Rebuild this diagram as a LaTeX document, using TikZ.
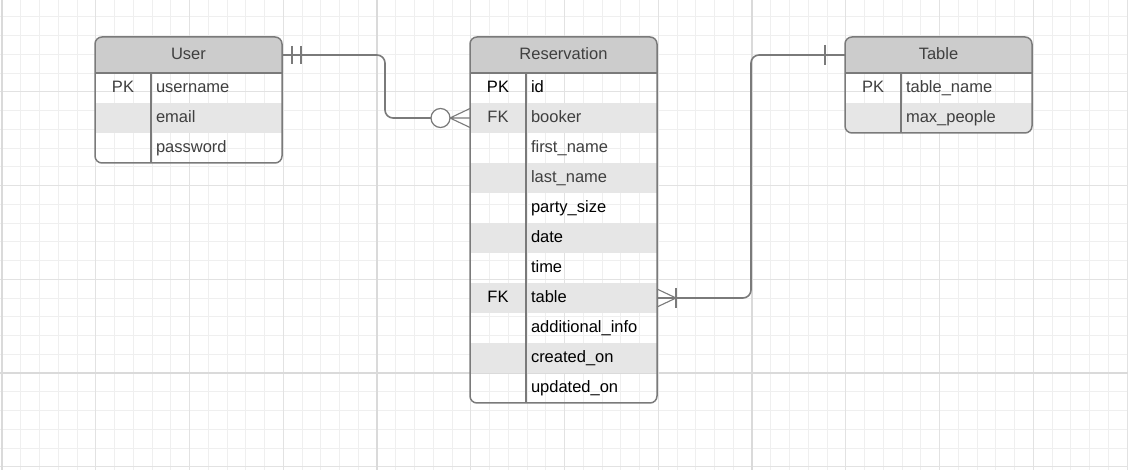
\documentclass[tikz,border=0pt]{standalone}
\usepackage{fontspec}
\setmainfont{Liberation Sans}
\usetikzlibrary{positioning}
\definecolor{hdrgray}{HTML}{CCCCCC}
\definecolor{rowgray}{HTML}{E6E6E6}
\definecolor{linegray}{HTML}{7A7A7A}
\definecolor{txtgray}{HTML}{3F3F3F}
\definecolor{minorgrid}{HTML}{EFEFEF}
\definecolor{midgrid}{HTML}{E2E2E2}
\definecolor{majorgrid}{HTML}{DADADA}

\begin{document}
\begin{tikzpicture}[
    x=1pt, y=-1pt,
    every node/.style={font=\fontsize{16.5}{19}\selectfont, outer sep=0pt, inner sep=0pt},
    header/.style={%
      fill=hdrgray,
      minimum width=187pt,
      minimum height=36pt,
      text height=13pt, text depth=3pt,
      text=txtgray,
    },
    key/.style={%
      minimum width=56pt,
      minimum height=30pt,
      text height=13pt, text depth=3pt,
    },
    field/.style={%
      minimum height=30pt,
      text width=121pt,
      inner xsep=5pt,
      align=left,
      text height=13pt, text depth=3pt,
    },
    shade/.style={fill=rowgray},
    dim/.style={text=txtgray},
    box/.style={draw=linegray, line width=1.5pt, rounded corners=7pt},
    link/.style={draw=linegray, line width=1.6pt},
    crowline/.style={draw=linegray, line width=1.1pt},
  ]

    \useasboundingbox (0,0) rectangle (1128,470);
    \fill[white] (0,0) rectangle (1128,470);

    % grid
    \foreach \i in {0,...,60}
      \draw[minorgrid, line width=0.8pt] ({2+18.75*\i},0) -- ++(0,470);
    \foreach \j in {1,...,25}
      \draw[minorgrid, line width=0.8pt] (0,{-2+18.75*\j}) -- ++(1128,0);
    \foreach \i in {0,...,12}
      \draw[midgrid, line width=0.8pt] ({2+93.75*\i},0) -- ++(0,470);
    \foreach \j in {1,...,5}
      \draw[midgrid, line width=0.8pt] (0,{-2+93.75*\j}) -- ++(1128,0);
    \foreach \i in {2,377,752}
      \draw[majorgrid, line width=1.4pt] (\i,0) -- ++(0,470);
    \draw[majorgrid, line width=1.4pt] (0,373) -- ++(1128,0);

    % User
    \begin{scope}
      \clip[rounded corners=7pt] (95,37) rectangle (282,163);
      \node [header, anchor=north west] (user) at (95,37) {User};
      \node [key, dim, anchor=north west] (user-k1) at (user.south west) {PK};
      \node [field, dim, right=0pt of user-k1] (user-f1) {username};
      \node [key, shade, below=0pt of user-k1] (user-k2) {};
      \node [field, shade, dim, right=0pt of user-k2] (user-f2) {email};
      \node [key, below=0pt of user-k2] (user-k3) {};
      \node [field, dim, right=0pt of user-k3] (user-f3) {password};
    \end{scope}
    \draw [box] (user.north west) rectangle (user-f3.south east);
    \draw [link] (user.south west) -- (user.south east);
    \draw [link] (user-k1.north east) -- (user-k3.south east);

    % Reservation
    \begin{scope}
      \clip[rounded corners=7pt] (470,37) rectangle (657,403);
      \node [header, anchor=north west] (res) at (470,37) {Reservation};
      \node [key, anchor=north west] (res-k1) at (res.south west) {PK};
      \node [field, right=0pt of res-k1] (res-f1) {id};
      \node [key, shade, dim, below=0pt of res-k1] (res-k2) {FK};
      \node [field, shade, dim, right=0pt of res-k2] (res-f2) {booker};
      \node [key, below=0pt of res-k2] (res-k3) {};
      \node [field, dim, right=0pt of res-k3] (res-f3) {first\_name};
      \node [key, shade, below=0pt of res-k3] (res-k4) {};
      \node [field, shade, dim, right=0pt of res-k4] (res-f4) {last\_name};
      \node [key, below=0pt of res-k4] (res-k5) {};
      \node [field, right=0pt of res-k5] (res-f5) {party\_size};
      \node [key, shade, below=0pt of res-k5] (res-k6) {};
      \node [field, shade, right=0pt of res-k6] (res-f6) {date};
      \node [key, below=0pt of res-k6] (res-k7) {};
      \node [field, right=0pt of res-k7] (res-f7) {time};
      \node [key, shade, below=0pt of res-k7] (res-k8) {FK};
      \node [field, shade, right=0pt of res-k8] (res-f8) {table};
      \node [key, below=0pt of res-k8] (res-k9) {};
      \node [field, right=0pt of res-k9] (res-f9) {additional\_info};
      \node [key, shade, below=0pt of res-k9] (res-k10) {};
      \node [field, shade, right=0pt of res-k10] (res-f10) {created\_on};
      \node [key, below=0pt of res-k10] (res-k11) {};
      \node [field, right=0pt of res-k11] (res-f11) {updated\_on};
    \end{scope}
    \draw [box] (res.north west) rectangle (res-f11.south east);
    \draw [link] (res.south west) -- (res.south east);
    \draw [link] (res-k1.north east) -- (res-k11.south east);

    % Table
    \begin{scope}
      \clip[rounded corners=7pt] (845,37) rectangle (1032,133);
      \node [header, anchor=north west] (tbl) at (845,37) {Table};
      \node [key, dim, anchor=north west] (tbl-k1) at (tbl.south west) {PK};
      \node [field, dim, right=0pt of tbl-k1] (tbl-f1) {table\_name};
      \node [key, shade, below=0pt of tbl-k1] (tbl-k2) {};
      \node [field, shade, dim, right=0pt of tbl-k2] (tbl-f2) {max\_people};
    \end{scope}
    \draw [box] (tbl.north west) rectangle (tbl-f2.south east);
    \draw [link] (tbl.south west) -- (tbl.south east);
    \draw [link] (tbl-k1.north east) -- (tbl-k2.south east);

    % User -- Reservation (one to zero or many)
    \node [draw=linegray, line width=1.2pt, fill=white, circle, minimum size=19pt,
      left=20pt of res-k2] (zero1) {};
    \draw [link, rounded corners=8pt] (user.east) -- ++(103,0) |- (zero1.west);
    \draw [crowline] (zero1.east) -- (res-k2.west)
      (zero1.east) -- ([yshift=9.5pt]res-k2.west)
      (zero1.east) -- ([yshift=-9.5pt]res-k2.west);
    \draw [crowline] ([xshift=10pt]user.east) ++(0,-9) -- ++(0,18);
    \draw [crowline] ([xshift=19pt]user.east) ++(0,-9) -- ++(0,18);

    % Table -- Reservation (one to one or many)
    \draw [link, rounded corners=8pt] (tbl.west) -- ++(-94,0) |- (res-f8.east);
    \draw [crowline] ([xshift=-20pt]tbl.west) ++(0,-10) -- ++(0,20);
    \coordinate (many2) at ([xshift=19pt]res-f8.east);
    \draw [crowline] (many2) -- (res-f8.east)
      (many2) -- ([yshift=9pt]res-f8.east)
      (many2) -- ([yshift=-9pt]res-f8.east);
    \draw [crowline] (many2) ++(0,-10) -- ++(0,20);
    \end{tikzpicture}
\end{document}
